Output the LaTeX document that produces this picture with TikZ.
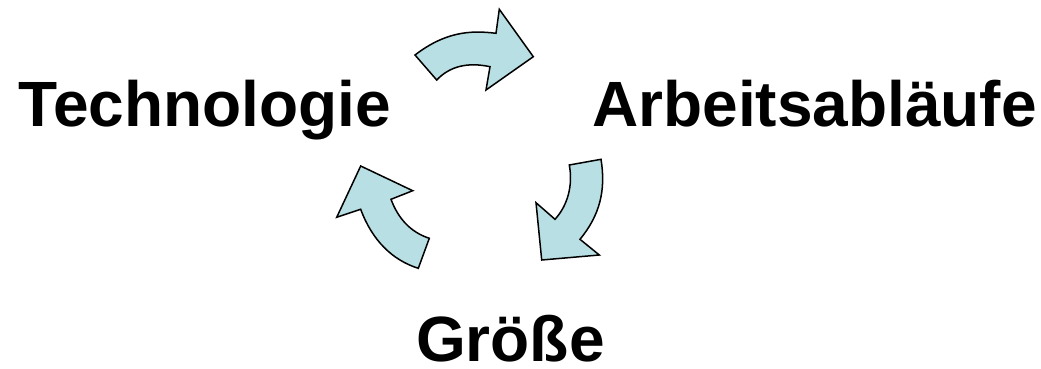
\documentclass[tikz,border=0pt]{standalone}
\usepackage{fontspec}
\setmainfont{Liberation Sans}
\begin{document}
\begin{tikzpicture}[x=1pt,y=-1pt,
  lbl/.style={inner sep=0pt,anchor=base west,font=\fontsize{64}{70}\selectfont\bfseries},
  cyc/.style={draw=black,line width=1.5pt,fill={rgb,255:red,184;green,223;blue,227},line join=miter}]
\useasboundingbox (0,0) rectangle (1041,369);
\node[lbl] (tech) at (18.5,126.7) {Technologie};
\node[lbl] (arb) at (592,126.7) {Arbeitsabläufe};
\node[lbl,text depth=0pt] (gr) at (416,361.7) {Größe};
% top arrow
\draw[cyc] (415,55) .. controls (445,32) and (470,30) .. (496,33.3)
  -- (499.3,9.3) -- (533.3,56.7) -- (486,90) -- (490,66.7)
  .. controls (468,62) and (450,66) .. (436.7,80) -- cycle;
% right arrow
\draw[cyc] (569.3,165) -- (601,159.3)
  .. controls (606,190) and (600,215) .. (580,239.3)
  -- (599.3,255) -- (541.7,260) -- (536,202.7) -- (555,219.3)
  .. controls (568,205) and (573,185) .. (569.3,165) -- cycle;
% left arrow
\draw[cyc] (418.3,268.3) -- (429.3,238.3)
  .. controls (410,232) and (398,218) .. (391,199.3)
  -- (412.7,190.7) -- (360.7,166) -- (336.7,217.3) -- (360.7,209.3)
  .. controls (372,240) and (392,260) .. (418.3,268.3) -- cycle;
\end{tikzpicture}
\end{document}
